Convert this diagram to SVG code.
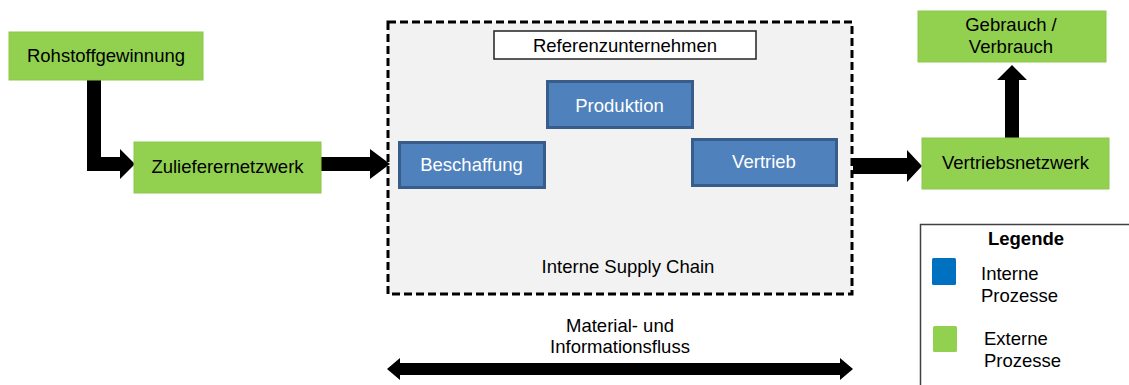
<svg xmlns="http://www.w3.org/2000/svg" width="1129" height="385" viewBox="0 0 1129 385">
<style>
text{font-family:"Liberation Sans",Arial,sans-serif;font-size:18.5px;fill:#000}
.c{text-anchor:middle}
.w{fill:#fff}
.ext{fill:#92d050;stroke:#8cc84c;stroke-width:1}
.int{fill:#4f81bd;stroke:#385d8a;stroke-width:3}
.arr{fill:#000}
</style>
<rect width="1129" height="385" fill="#fff"/>
<g id="container">
<rect x="388" y="22" width="464" height="272" fill="#f2f2f2" stroke="#000" stroke-width="3" stroke-dasharray="8,4"/>
<text class="c" x="628" y="273">Interne Supply Chain</text>
</g>
<g id="referenz">
<rect x="494" y="31" width="262" height="28" fill="#fff" stroke="#222" stroke-width="1.5"/>
<text class="c" x="625" y="52">Referenzunternehmen</text>
</g>
<g id="connectors">
<polygon class="arr" points="87,80 101,80 101,157 120,157 120,149 135,164 120,179 120,171 87,171"/>
<polygon class="arr" points="321,157 370,157 370,149 390,164 370,179 370,171 321,171"/>
<polygon class="arr" points="853,158 907,158 907,150 922,166 907,182 907,174 853,174"/>
<polygon class="arr" points="1005,138 1005,80 997,80 1012,65 1027,80 1019,80 1019,138"/>
<polygon class="arr" points="387,369 400,358 400,363 840,363 840,358 853,369 840,380 840,375 400,375 400,380"/>
</g>
<g id="rohstoff">
<rect class="ext" x="9" y="32" width="194" height="48"/>
<text class="c" x="106" y="62">Rohstoffgewinnung</text>
</g>
<g id="zulieferer">
<rect class="ext" x="134" y="142" width="187" height="51"/>
<text class="c" x="227.5" y="173">Zulieferernetzwerk</text>
</g>
<g id="beschaffung">
<rect class="int" x="399.5" y="142.5" width="145" height="45"/>
<text class="c w" x="471.5" y="171">Beschaffung</text>
</g>
<g id="produktion">
<rect class="int" x="547.5" y="81.5" width="145" height="46"/>
<text class="c w" x="619.5" y="112">Produktion</text>
</g>
<g id="vertrieb">
<rect class="int" x="692.5" y="139.5" width="144" height="46"/>
<text class="c w" x="764" y="168">Vertrieb</text>
</g>
<g id="vertriebsnetzwerk">
<rect class="ext" x="922" y="138" width="187" height="51"/>
<text class="c" x="1015.5" y="169">Vertriebsnetzwerk</text>
</g>
<g id="gebrauch">
<rect class="ext" x="918" y="11" width="188" height="51"/>
<text class="c" x="1011" y="31">Gebrauch /</text>
<text class="c" x="1011" y="53">Verbrauch</text>
</g>
<g id="flowlabel">
<text class="c" x="620" y="332">Material- und</text>
<text class="c" x="620" y="353">Informationsfluss</text>
</g>
<g id="legend">
<rect x="920.5" y="224.5" width="220" height="170" fill="#fff" stroke="#404040" stroke-width="1.5"/>
<text class="c" x="1026" y="245" font-weight="bold">Legende</text>
<rect x="932" y="258" width="24" height="27" rx="1.5" fill="#0070c0"/>
<text x="981" y="280">Interne</text>
<text x="981" y="302">Prozesse</text>
<rect x="933" y="326" width="24" height="26" rx="1.5" fill="#92d050"/>
<text x="984" y="345">Externe</text>
<text x="984" y="367">Prozesse</text>
</g>
</svg>
